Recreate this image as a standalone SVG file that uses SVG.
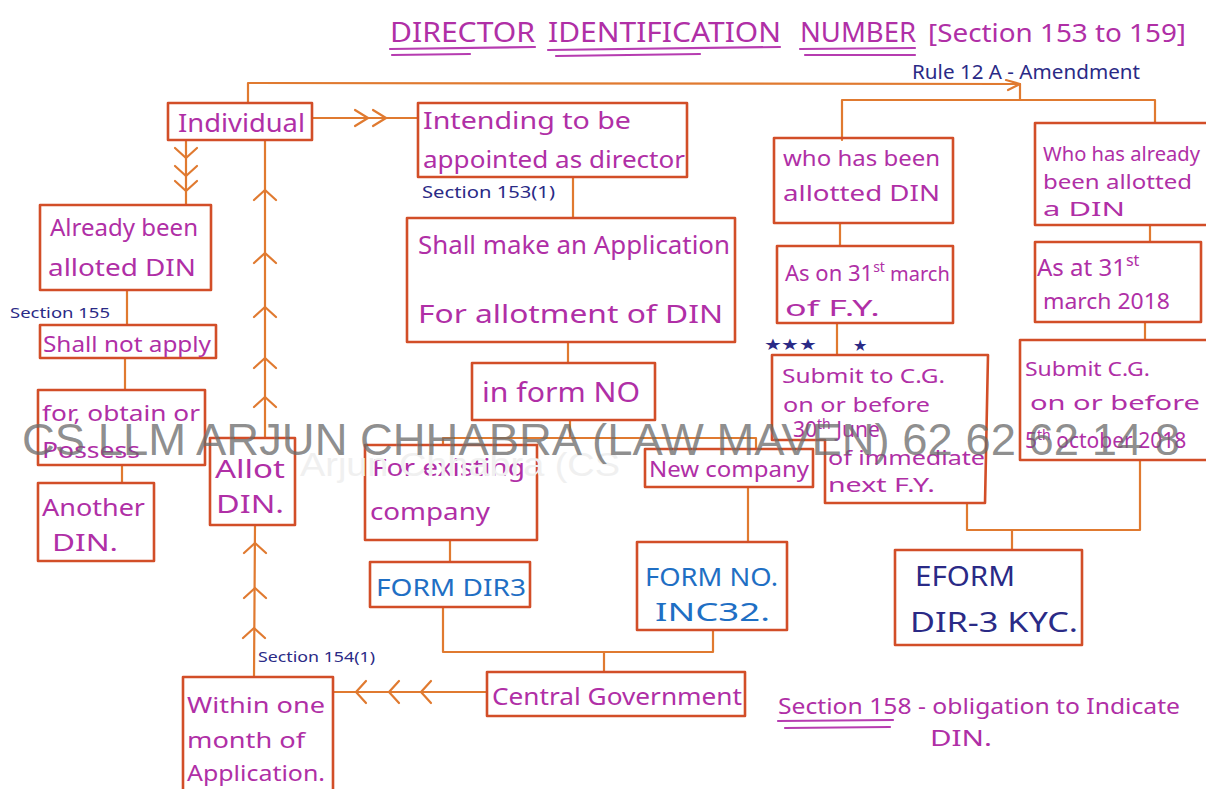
<svg xmlns="http://www.w3.org/2000/svg" xmlns:xlink="http://www.w3.org/1999/xlink" width="1206" height="789" viewBox="0 0 1206 789">
<style>
.bx{fill:none;stroke:#d24e28;stroke-width:2.6;stroke-linejoin:round}
.ln{fill:none;stroke:#e07a30;stroke-width:2.2;stroke-linecap:round;stroke-linejoin:round}
.t{font-family:"Noto Sans","Open Sans",sans-serif;fill:#b02fa6}
.b{font-family:"Noto Sans","Open Sans",sans-serif;fill:#1f6fc4}
.n{font-family:"Noto Sans","Open Sans",sans-serif;fill:#2a2a86}
.ul{fill:none;stroke:#b63cb0;stroke-width:2.2;stroke-linecap:round}
.wm{font-family:"Liberation Sans",Arial,sans-serif;fill:#6a6a6a;fill-opacity:0.75}
</style>
<defs>
<path id="cu" d="M-11,10 L0,0 L11,10" class="ln"/>
<path id="cd" d="M-11,-10 L0,0 L11,-10" class="ln"/>
<path id="cl" d="M10,-11 L0,0 L10,11" class="ln"/>
<path id="cr" d="M-13,-8 L0,0 L-13,8" class="ln"/>
</defs>
<rect width="1206" height="789" fill="#ffffff"/>

<g id="title">
<text class="t" x="390" y="42" font-size="28" textLength="145" lengthAdjust="spacingAndGlyphs">DIRECTOR</text>
<text class="t" x="548" y="42" font-size="28" textLength="233" lengthAdjust="spacingAndGlyphs">IDENTIFICATION</text>
<text class="t" x="800" y="42" font-size="28" textLength="116" lengthAdjust="spacingAndGlyphs">NUMBER</text>
<text class="t" x="928" y="42" font-size="26" textLength="258" lengthAdjust="spacingAndGlyphs">[Section 153 to 159]</text>
<path class="ul" d="M390,49 L535,47 M392,55 L470,54 M548,50 L780,47 M556,56 L700,54 M800,49 L915,48 M805,55 L915,55"/>
<text class="n" x="912" y="79" font-size="19" textLength="228" lengthAdjust="spacingAndGlyphs">Rule 12 A - Amendment</text>
</g>

<g id="connectors">
<path class="ln" d="M248,103 L248,83 L1020,84 L1020,100"/>
<path class="ln" d="M1006,80 L1020,84 L1008,90"/>
<path class="ln" d="M842,140 L842,100 L1155,100 L1155,123"/>
<path class="ln" d="M312,118 L418,118"/>
<use xlink:href="#cr" x="368" y="118"/>
<use xlink:href="#cr" x="386" y="118"/>
<path class="ln" d="M573,177 L573,218"/>
<path class="ln" d="M568,342 L568,363"/>
<path class="ln" d="M570,420 L570,438 M443,445 L443,438 L756,438 L756,449"/>
<path class="ln" d="M450,540 L450,562"/>
<path class="ln" d="M748,487 L748,542"/>
<path class="ln" d="M443,607 L443,652 L713,652 L713,630 M604,652 L604,672"/>
<path class="ln" d="M487,692 L333,692"/>
<use xlink:href="#cl" x="356" y="692"/>
<use xlink:href="#cl" x="389" y="692"/>
<use xlink:href="#cl" x="421" y="692"/>
<path class="ln" d="M254,677 L255,525"/>
<use xlink:href="#cu" x="255" y="543"/>
<use xlink:href="#cu" x="255" y="588"/>
<use xlink:href="#cu" x="254" y="628"/>
<path class="ln" d="M265,438 L265,140"/>
<use xlink:href="#cu" x="265" y="190"/>
<use xlink:href="#cu" x="265" y="253"/>
<use xlink:href="#cu" x="265" y="307"/>
<use xlink:href="#cu" x="265" y="358"/>
<use xlink:href="#cu" x="265" y="397"/>
<path class="ln" d="M186,140 L186,205"/>
<use xlink:href="#cd" x="186" y="158"/>
<use xlink:href="#cd" x="186" y="176"/>
<use xlink:href="#cd" x="186" y="191"/>
<path class="ln" d="M127,290 L127,325"/>
<path class="ln" d="M125,358 L125,390"/>
<path class="ln" d="M122,465 L122,483"/>
<path class="ln" d="M840,223 L840,246"/>
<path class="ln" d="M837,323 L837,355"/>
<path class="ln" d="M1150,225 L1150,242"/>
<path class="ln" d="M1145,322 L1145,340"/>
<path class="ln" d="M967,503 L967,530 L1140,530 L1140,460 M1012,530 L1012,550"/>
</g>

<g id="individual">
<rect class="bx" x="168" y="103" width="144" height="37"/>
<text class="t" x="178" y="132" font-size="26" textLength="127" lengthAdjust="spacingAndGlyphs">Individual</text>
</g>
<g id="intending">
<rect class="bx" x="418" y="103" width="269" height="74"/>
<text class="t" x="423" y="129" font-size="24" textLength="208" lengthAdjust="spacingAndGlyphs">Intending to be</text>
<text class="t" x="423" y="168" font-size="24" textLength="262" lengthAdjust="spacingAndGlyphs">appointed as director</text>
<text class="n" x="422" y="198" font-size="16" textLength="133" lengthAdjust="spacingAndGlyphs">Section 153(1)</text>
</g>
<g id="application">
<rect class="bx" x="407" y="218" width="328" height="124"/>
<text class="t" x="418" y="254" font-size="26" textLength="312" lengthAdjust="spacingAndGlyphs">Shall make an Application</text>
<text class="t" x="418" y="323" font-size="26" textLength="305" lengthAdjust="spacingAndGlyphs">For allotment of DIN</text>
</g>
<g id="inform">
<rect class="bx" x="472" y="363" width="183" height="57"/>
<text class="t" x="482" y="402" font-size="28" textLength="158" lengthAdjust="spacingAndGlyphs">in form NO</text>
</g>
<g id="existing">
<rect class="bx" x="365" y="445" width="172" height="95"/>
<text class="t" x="372" y="476" font-size="24" textLength="153" lengthAdjust="spacingAndGlyphs">For existing</text>
<text class="t" x="370" y="520" font-size="24" textLength="120" lengthAdjust="spacingAndGlyphs">company</text>
</g>
<g id="newcompany">
<rect class="bx" x="645" y="449" width="168" height="38"/>
<text class="t" x="649" y="477" font-size="22" textLength="160" lengthAdjust="spacingAndGlyphs">New company</text>
</g>
<g id="dir3">
<rect class="bx" x="370" y="562" width="160" height="45"/>
<text class="b" x="376" y="596" font-size="24" textLength="150" lengthAdjust="spacingAndGlyphs">FORM DIR3</text>
</g>
<g id="inc32">
<rect class="bx" x="637" y="542" width="150" height="88"/>
<text class="b" x="645" y="586" font-size="26" textLength="133" lengthAdjust="spacingAndGlyphs">FORM NO.</text>
<text class="b" x="655" y="621" font-size="26" textLength="115" lengthAdjust="spacingAndGlyphs">INC32.</text>
</g>
<g id="centralgov">
<rect class="bx" x="487" y="672" width="258" height="44"/>
<text class="t" x="492" y="705" font-size="24" textLength="250" lengthAdjust="spacingAndGlyphs">Central Government</text>
</g>
<g id="withinmonth">
<path class="bx" d="M183,789 L183,677 L333,677 L333,789"/>
<text class="t" x="187" y="713" font-size="22" textLength="138" lengthAdjust="spacingAndGlyphs">Within one</text>
<text class="t" x="187" y="748" font-size="22" textLength="118" lengthAdjust="spacingAndGlyphs">month of</text>
<text class="t" x="187" y="781" font-size="22" textLength="138" lengthAdjust="spacingAndGlyphs">Application.</text>
<text class="n" x="258" y="662" font-size="15" textLength="117" lengthAdjust="spacingAndGlyphs">Section 154(1)</text>
</g>
<g id="allotdin">
<rect class="bx" x="210" y="438" width="85" height="87"/>
<text class="t" x="215" y="478" font-size="26" textLength="70" lengthAdjust="spacingAndGlyphs">Allot</text>
<text class="t" x="216" y="513" font-size="26" textLength="68" lengthAdjust="spacingAndGlyphs">DIN.</text>
</g>
<g id="already">
<rect class="bx" x="40" y="205" width="171" height="85"/>
<text class="t" x="50" y="236" font-size="24" textLength="148" lengthAdjust="spacingAndGlyphs">Already been</text>
<text class="t" x="48" y="276" font-size="24" textLength="148" lengthAdjust="spacingAndGlyphs">alloted DIN</text>
<text class="n" x="10" y="318" font-size="15" textLength="100" lengthAdjust="spacingAndGlyphs">Section 155</text>
</g>
<g id="shallnot">
<rect class="bx" x="40" y="325" width="176" height="33"/>
<text class="t" x="43" y="352" font-size="22" textLength="168" lengthAdjust="spacingAndGlyphs">Shall not apply</text>
</g>
<g id="obtain">
<rect class="bx" x="38" y="390" width="167" height="75"/>
<text class="t" x="42" y="421" font-size="22" textLength="158" lengthAdjust="spacingAndGlyphs">for, obtain or</text>
<text class="t" x="42" y="458" font-size="22" textLength="98" lengthAdjust="spacingAndGlyphs">Possess</text>
</g>
<g id="another">
<rect class="bx" x="38" y="483" width="116" height="78"/>
<text class="t" x="42" y="516" font-size="24" textLength="103" lengthAdjust="spacingAndGlyphs">Another</text>
<text class="t" x="52" y="551" font-size="24" textLength="66" lengthAdjust="spacingAndGlyphs">DIN.</text>
</g>
<g id="whohasbeen">
<rect class="bx" x="774" y="138" width="179" height="85"/>
<text class="t" x="783" y="166" font-size="22" textLength="157" lengthAdjust="spacingAndGlyphs">who has been</text>
<text class="t" x="783" y="201" font-size="22" textLength="157" lengthAdjust="spacingAndGlyphs">allotted DIN</text>
</g>
<g id="ason31">
<rect class="bx" x="777" y="246" width="176" height="77"/>
<text class="t" x="785" y="281" font-size="22">As on 31<tspan font-size="14" dy="-9">st</tspan><tspan dy="9" font-size="20"> march</tspan></text>
<text class="t" x="785" y="316" font-size="22" textLength="95" lengthAdjust="spacingAndGlyphs">of F.Y.</text>
<text class="n" x="764" y="350" font-size="16" textLength="52" lengthAdjust="spacingAndGlyphs">★★★</text>
<text class="n" x="853" y="351" font-size="16">★</text>
</g>
<g id="submit30june">
<path class="bx" d="M772,355 L988,355 L985,503 L825,503 L825,440 L772,440 Z"/>
<text class="t" x="782" y="383" font-size="20" textLength="163" lengthAdjust="spacingAndGlyphs">Submit to C.G.</text>
<text class="t" x="783" y="412" font-size="20" textLength="147" lengthAdjust="spacingAndGlyphs">on or before</text>
<text class="t" x="793" y="437" font-size="21">30<tspan font-size="14" dy="-8">th</tspan><tspan dy="8"> June</tspan></text>
<text class="t" x="828" y="465" font-size="20" textLength="157" lengthAdjust="spacingAndGlyphs">of immediate</text>
<text class="t" x="828" y="492" font-size="20" textLength="107" lengthAdjust="spacingAndGlyphs">next F.Y.</text>
</g>
<g id="whohasalready">
<path class="bx" d="M1206,123 L1035,123 L1035,225 L1206,225"/>
<text class="t" x="1043" y="161" font-size="20" textLength="157" lengthAdjust="spacingAndGlyphs">Who has already</text>
<text class="t" x="1043" y="189" font-size="20" textLength="149" lengthAdjust="spacingAndGlyphs">been allotted</text>
<text class="t" x="1043" y="216" font-size="20" textLength="82" lengthAdjust="spacingAndGlyphs">a DIN</text>
</g>
<g id="asat31">
<path class="bx" d="M1201,242 L1035,242 L1035,322 L1201,322 Z"/>
<text class="t" x="1037" y="276" font-size="24">As at 31<tspan font-size="16" dy="-10">st</tspan></text>
<text class="t" x="1043" y="309" font-size="22" textLength="127" lengthAdjust="spacingAndGlyphs">march 2018</text>
</g>
<g id="submit5oct">
<path class="bx" d="M1206,340 L1020,340 L1020,460 L1206,460"/>
<text class="t" x="1025" y="376" font-size="20" textLength="125" lengthAdjust="spacingAndGlyphs">Submit C.G.</text>
<text class="t" x="1030" y="410" font-size="20" textLength="170" lengthAdjust="spacingAndGlyphs">on or before</text>
<text class="t" x="1025" y="448" font-size="21">5<tspan font-size="14" dy="-8">th</tspan><tspan dy="8"> october 2018</tspan></text>
</g>
<g id="eform">
<rect class="bx" x="895" y="550" width="187" height="95"/>
<text class="n" x="915" y="586" font-size="28" textLength="100" lengthAdjust="spacingAndGlyphs">EFORM</text>
<text class="n" x="910" y="632" font-size="28" textLength="168" lengthAdjust="spacingAndGlyphs">DIR-3 KYC.</text>
</g>
<g id="section158">
<text class="t" x="778" y="714" font-size="22" textLength="402" lengthAdjust="spacingAndGlyphs">Section 158 - obligation to Indicate</text>
<text class="t" x="930" y="746" font-size="22" textLength="62" lengthAdjust="spacingAndGlyphs">DIN.</text>
<path class="ul" d="M778,721 L893,720 M785,728 L890,727"/>
</g>

<g id="watermark">
<text x="300" y="476" font-family="Liberation Sans,Arial,sans-serif" font-size="34" fill="#f0f0f0" textLength="320" lengthAdjust="spacingAndGlyphs">Arjun Chhabra (CS</text>
<text class="wm" x="22" y="455" font-size="44" textLength="1158" lengthAdjust="spacingAndGlyphs">CS LLM ARJUN CHHABRA (LAW MAVEN) 62 62 62 14 8</text>
</g>
</svg>
